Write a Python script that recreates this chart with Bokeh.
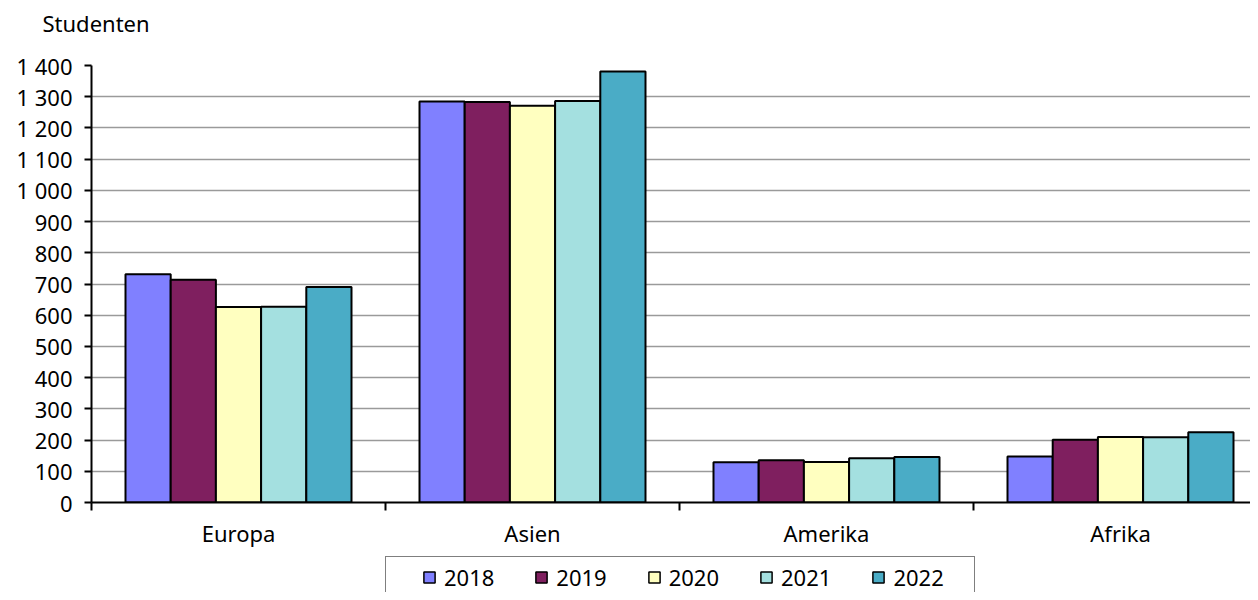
import numpy as np
from bokeh.plotting import figure
from bokeh.layouts import column
from bokeh.models import Range1d, FixedTicker, Legend, LegendItem, ColumnDataSource, Title
from bokeh.embed import file_html
from bokeh.resources import INLINE

regions = ["Europa", "Asien", "Amerika", "Afrika"]
years = ["2018", "2019", "2020", "2021", "2022"]
v2018 = [731, 1285, 129, 147]
v2019 = [714, 1283, 135, 201]
v2020 = [626, 1271, 130, 210]
v2021 = [627, 1286, 142, 209]
v2022 = [690, 1381, 146, 225]
series = [v2018, v2019, v2020, v2021, v2022]
colors = ["#8080FF", "#7F1F5F", "#FFFFC0", "#A4E0E0", "#4AACC6"]
y_ticks = list(range(0, 1500, 100))

FONT = "Noto Sans"
FS = "22px"
W = 1250
LEFT = 91
CAT_PX = 294

p = figure(width=W, height=556, output_backend="svg", toolbar_location=None,
           x_range=Range1d(0, (W - LEFT) / CAT_PX), y_range=Range1d(0, 1400),
           min_border_left=LEFT, min_border_top=65, min_border_bottom=54, min_border_right=0)
p.outline_line_color = None
p.background_fill_color = "white"

# outer title holds the text, an inner blank title acts as spacer above the frame
p.title.text = "Studenten"
p.title.align = "left"
p.title.offset = -49
p.title.standoff = 8
p.title.text_font = FONT
p.title.text_font_size = FS
p.title.text_font_style = "normal"
p.title.text_color = "black"
p.add_layout(Title(text=" ", standoff=0, text_font=FONT, text_font_size="16px"), "above")

bw = 45.2 / CAT_PX
centers = np.arange(len(regions)) + 0.5
for j, (vals, c) in enumerate(zip(series, colors)):
    src = ColumnDataSource(dict(x=centers + (j - 2) * bw, top=vals))
    p.vbar(x="x", top="top", bottom=0, width=bw, source=src,
           fill_color=c, line_color="black", line_width=2)

yax = p.yaxis[0]
yax.ticker = FixedTicker(ticks=y_ticks, minor_ticks=[])
yax.major_label_overrides = {t: f"{t:,}".replace(",", " ") for t in y_ticks}
yax.axis_line_width = 2
yax.axis_line_color = "black"
yax.major_tick_out = 7
yax.major_tick_in = 0
yax.major_tick_line_width = 2
yax.minor_tick_out = 0
yax.minor_tick_in = 0
yax.major_label_standoff = 12
yax.major_label_text_font = FONT
yax.major_label_text_font_size = FS
yax.major_label_text_color = "black"

xax = p.xaxis[0]
xax.ticker = FixedTicker(ticks=list(centers), minor_ticks=list(range(0, len(regions) + 1)))
xax.major_label_overrides = {float(c): r for c, r in zip(centers, regions)}
xax.axis_line_width = 2
xax.axis_line_color = "black"
xax.major_tick_out = 0
xax.major_tick_in = 0
xax.minor_tick_out = 8
xax.minor_tick_in = 0
xax.minor_tick_line_width = 2
xax.minor_tick_line_color = "black"
xax.major_label_standoff = 7
xax.major_label_text_font = FONT
xax.major_label_text_font_size = FS
xax.major_label_text_color = "black"

p.xgrid.visible = False
p.ygrid.ticker = FixedTicker(ticks=y_ticks, minor_ticks=[])
p.ygrid.grid_line_color = "#9a9a9a"
p.ygrid.grid_line_width = 1.3

# legend strip (frame aligned with main frame in the column)
LH = 36
q = figure(width=W, height=LH, output_backend="svg", toolbar_location=None,
           x_range=Range1d(-1001, -1000), y_range=Range1d(100000, 100001),
           min_border_left=LEFT, min_border_right=0, min_border_top=0, min_border_bottom=0)
q.axis.visible = False
q.grid.visible = False
q.outline_line_color = None

# legend proxies: same series, mapped far outside this strip's visible ranges
dummy = q.vbar(x=centers, top=v2018, bottom=0, width=bw, fill_alpha=0, line_alpha=0)
leg_r = []
for j, (vals, c) in enumerate(zip(series, colors)):
    leg_r.append(q.vbar(x=centers + (j - 2) * bw, top=vals, bottom=0, width=bw,
                        fill_color=c, line_color="black", line_width=1.5))

box = Legend(items=[LegendItem(label=" ", renderers=[dummy])], location=(385 - LEFT, -4),
             padding=12, glyph_width=1, glyph_height=14, label_standoff=0,
             label_width=588 - 2 * 12 - 1,
             border_line_color="black", border_line_width=1, background_fill_color="white",
             background_fill_alpha=1, label_text_font=FONT, label_text_font_size=FS)
q.add_layout(box)

leg = Legend(items=[LegendItem(label=y, renderers=[r]) for y, r in zip(years, leg_r)],
             location=(423 - 1 - LEFT, 0), orientation="horizontal", padding=12,
             glyph_width=14, glyph_height=14, label_standoff=8, spacing=40,
             border_line_color=None, background_fill_alpha=0,
             label_text_font=FONT, label_text_font_size=FS, label_text_color="black")
q.add_layout(leg)

layout = column(p, q, spacing=0)
open("out.html", "w").write(file_html(layout, INLINE))
